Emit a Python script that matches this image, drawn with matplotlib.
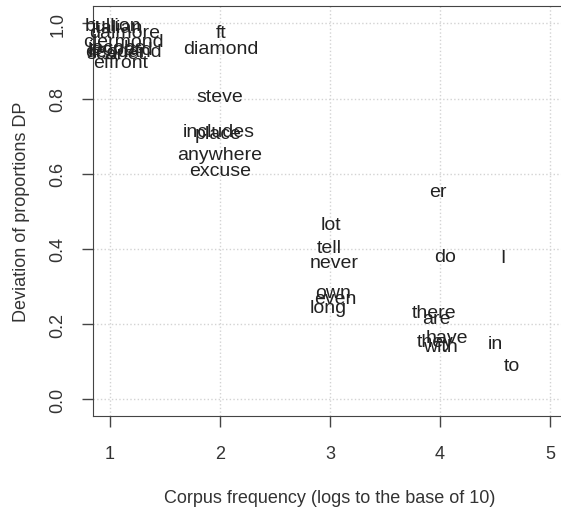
import matplotlib
matplotlib.use("Agg")
import matplotlib.pyplot as plt

plt.rcParams['font.family'] = ['Liberation Sans', 'DejaVu Sans']

# words with log10 corpus frequency and DP value
words = ["bullion", "italian", "dalmore", "clermond", "jacobs", "leopard",
         "deodand", "scarlet", "effront",
         "ft", "diamond", "steve", "includes", "place", "anywhere", "excuse",
         "er", "lot", "tell", "never", "do", "I", "own", "even", "long",
         "there", "are", "have", "they", "with", "in", "to"]
log_freq = [1.03, 1.07, 1.13, 1.12, 1.06, 1.10, 1.12, 1.05, 1.10,
            2.01, 2.01, 2.00, 1.99, 1.98, 2.00, 2.00,
            3.98, 3.01, 2.99, 3.04, 4.05, 4.57, 3.03, 3.05, 2.98,
            3.95, 3.97, 4.06, 3.96, 4.00, 4.50, 4.65]
dp = [0.995, 0.99, 0.975, 0.952, 0.935, 0.93, 0.925, 0.92, 0.897,
      0.976, 0.933, 0.805, 0.712, 0.707, 0.65, 0.61,
      0.552, 0.464, 0.405, 0.365, 0.381, 0.376, 0.285, 0.267, 0.245,
      0.232, 0.216, 0.165, 0.155, 0.14, 0.149, 0.091]

xticks = [1, 2, 3, 4, 5]
yticks = [0.0, 0.2, 0.4, 0.6, 0.8, 1.0]

fig = plt.figure(figsize=(5.61, 5.10), dpi=100)
ax = fig.add_axes([0.165, 0.182, 0.847, 0.804])

for w, x, y in zip(words, log_freq, dp):
    ax.text(x, y, w, ha="center", va="center", fontsize=14, color="#222222")

ax.set_xlim(0.843, 5.16)
ax.set_ylim(-0.045, 1.046)
ax.set_xticks(xticks)
ax.set_yticks(yticks)
ax.set_yticklabels([f"{v:.1f}" for v in yticks], rotation=90, va="center")
ax.grid(True, color="lightgray", linestyle=":", linewidth=1)
ax.set_axisbelow(True)
for s in ax.spines.values():
    s.set_color("#444444")
ax.tick_params(direction="out", length=8, width=1, color="#444444",
               labelsize=13, labelcolor="#333333")
ax.tick_params(axis="x", pad=13)
ax.tick_params(axis="y", pad=11)
ax.set_xlabel("Corpus frequency (logs to the base of 10)", fontsize=13,
              color="#333333", labelpad=19)
ax.set_ylabel("Deviation of proportions DP", fontsize=13, color="#333333",
              labelpad=14)

fig.savefig("out.png", dpi=100)
